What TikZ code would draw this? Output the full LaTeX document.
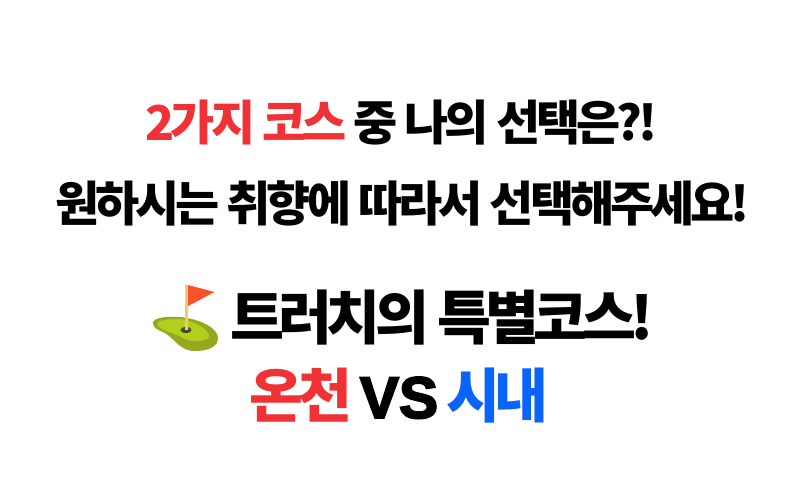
\documentclass[tikz,border=0pt]{standalone}
\usepackage{fontspec}
\newfontfamily\cjk[LetterSpace=-8.3]{Noto Sans CJK KR Black}
\newfontfamily\cjkb[LetterSpace=-9.5]{Noto Sans CJK KR Black}
\newfontfamily\latb[BoldFeatures={FakeBold=3.2}]{Liberation Sans}
\definecolor{cred}{HTML}{F03237}
\definecolor{cblue}{HTML}{0A64FA}
\definecolor{grlight}{HTML}{B2CE1E}
\definecolor{grdark}{HTML}{97A81E}
\definecolor{flagc}{HTML}{FC5228}
\definecolor{polec}{HTML}{F4C77B}
\definecolor{holec}{HTML}{4A4A2A}
\tikzset{txt/.style={inner sep=0pt,anchor=center,text=black},bs/.style={inner sep=0pt,anchor=base,text=black}}
\begin{document}
\begin{tikzpicture}[x=0.75pt,y=-0.75pt]
\useasboundingbox (0,0) rectangle (800,484);
\node[txt] (a) at (401.5,123) {\fontsize{36}{40}\cjk\textcolor{cred}{2가지 코스} 중 나의 선택은?!};
\node[txt] (b) at (402.5,203) {\fontsize{36}{40}\cjk 원하시는 취향에 따라서 선택해주세요!};
\node[txt] (c) at (442,317.5) {\fontsize{44}{48}\cjkb 트러치의 특별코스!};
\node[bs] (d1) at (301,418) {\fontsize{44}{48}\cjkb\textcolor{cred}{온천}};
\node[bs] (d2) at (399,418) {\fontsize{44}{48}\latb\bfseries VS};
\node[bs] (d3) at (497.5,418) {\fontsize{44}{48}\cjkb\textcolor{cblue}{시내}};
% golf icon
\fill[grdark] (153,323) .. controls (153,318) and (165,316) .. (180,317) .. controls (200,319) and (218,328) .. (218,338) .. controls (218,347) and (208,351) .. (195,351) .. controls (180,351) and (176,340) .. (165,333) .. controls (158,330) and (153,328) .. (153,323) -- cycle;
\fill[grlight] (157,324) .. controls (158,320) and (170,318.5) .. (180,319) .. controls (195,321) and (210,330) .. (209,337) .. controls (205,342) and (192,342) .. (185,339) .. controls (175,333) and (158,330) .. (157,324) -- cycle;
\fill[holec] (186,330) ellipse (5.5 and 3.2);
\fill[polec] (185,284.5) -- (188,286) -- (188,330) -- (185,330) -- cycle;
\fill[flagc] (188,285) -- (214.5,292) .. controls (205,297) and (196,302) .. (188,306) -- cycle;
\end{tikzpicture}
\end{document}
